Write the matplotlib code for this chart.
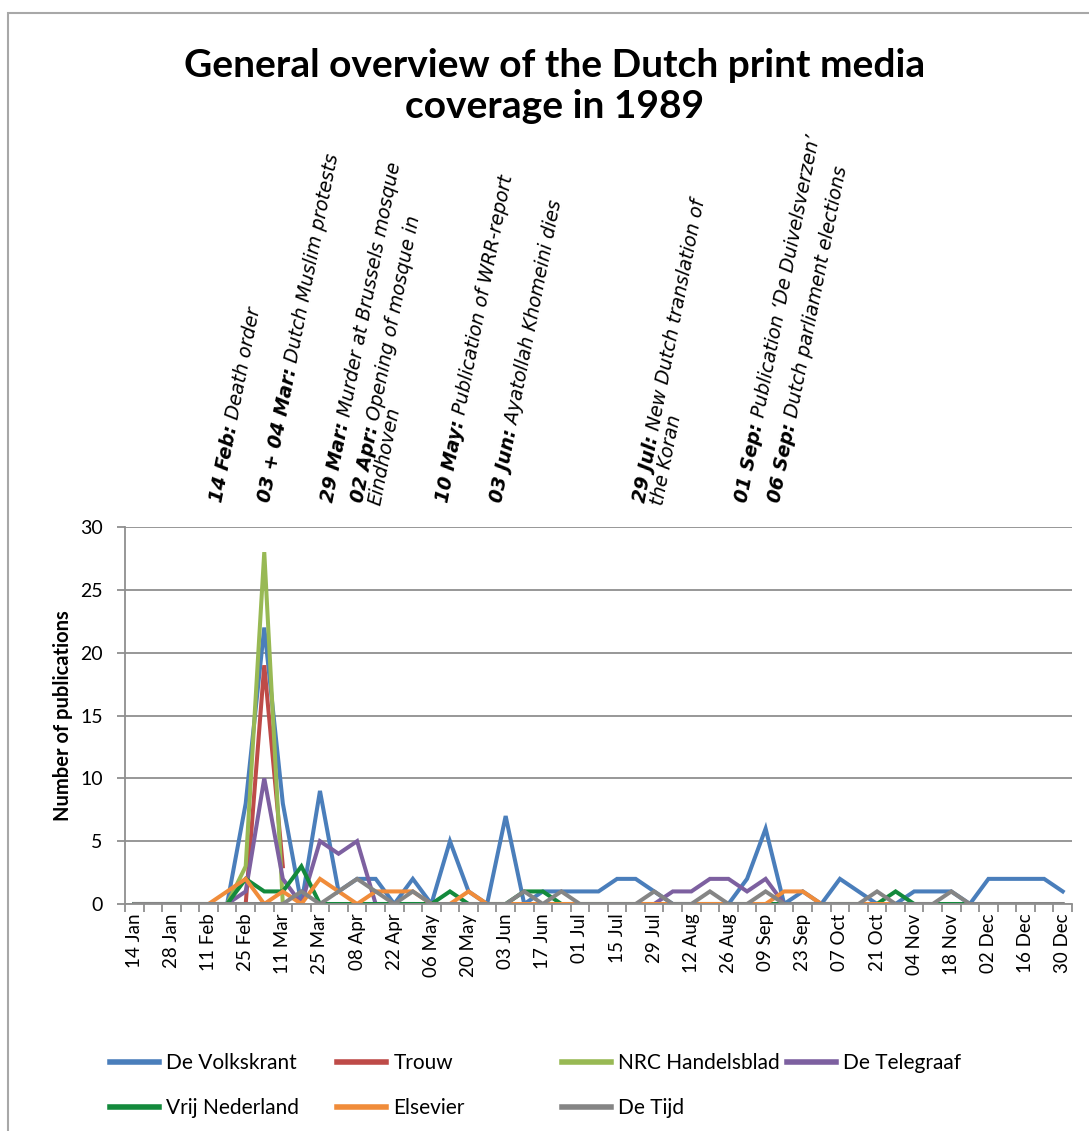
import numpy as np
import matplotlib
matplotlib.use("Agg")
import matplotlib.pyplot as plt
from matplotlib.transforms import blended_transform_factory, offset_copy
from matplotlib.patches import Rectangle
from matplotlib.lines import Line2D

nan = np.nan

# ---------------- data ----------------
weeks = ["14 Jan", "21 Jan", "28 Jan", "04 Feb", "11 Feb", "18 Feb", "25 Feb",
         "04 Mar", "11 Mar", "18 Mar", "25 Mar", "01 Apr", "08 Apr", "15 Apr",
         "22 Apr", "29 Apr", "06 May", "13 May", "20 May", "27 May", "03 Jun",
         "10 Jun", "17 Jun", "24 Jun", "01 Jul", "08 Jul", "15 Jul", "22 Jul",
         "29 Jul", "05 Aug", "12 Aug", "19 Aug", "26 Aug", "02 Sep", "09 Sep",
         "16 Sep", "23 Sep", "30 Sep", "07 Oct", "14 Oct", "21 Oct", "28 Oct",
         "04 Nov", "11 Nov", "18 Nov", "25 Nov", "02 Dec", "09 Dec", "16 Dec",
         "23 Dec", "30 Dec"]

volkskrant = [0, 0, 0, 0, 0, 0, 8, 22, 8, 0,
              9, 1, 2, 2, 0, 2, 0, 5, 1, 0,
              7, 0, 1, 1, 1, 1, 2, 2, 1, 0,
              0, 0, 0, 2, 6, 0, 1, 0, 2, 1,
              0, 0, 1, 1, 1, 0, 2, 2, 2, 2,
              1]
trouw = [nan, nan, nan, nan, nan, nan, 0, 19, 3, nan,
         nan, nan, nan, nan, nan, nan, nan, nan, nan, nan,
         nan, nan, nan, nan, nan, nan, nan, nan, nan, nan,
         nan, nan, nan, nan, nan, nan, nan, nan, nan, nan,
         nan, nan, nan, nan, nan, nan, nan, nan, nan, nan,
         nan]
nrc = [nan, nan, nan, nan, nan, 0, 3, 28, 0, nan,
       nan, nan, nan, nan, nan, nan, nan, nan, nan, nan,
       nan, nan, nan, nan, nan, nan, nan, nan, nan, nan,
       nan, nan, nan, nan, nan, nan, nan, nan, nan, nan,
       nan, nan, nan, nan, nan, nan, nan, nan, nan, nan,
       nan]
telegraaf = [nan, nan, nan, nan, nan, 0, 1, 10, 2, 0,
             5, 4, 5, 0, 0, 0, nan, nan, nan, nan,
             nan, nan, nan, nan, nan, nan, nan, nan, 0, 1,
             1, 2, 2, 1, 2, 0, nan, nan, nan, nan,
             nan, nan, nan, nan, nan, nan, nan, nan, nan, nan,
             nan]
vrij_nederland = [0, 0, 0, 0, 0, 0, 2, 1, 1, 3,
                  0, 0, 0, 0, 0, 0, 0, 1, 0, 0,
                  0, 1, 1, 0, 0, 0, 0, 0, 0, 0,
                  0, 0, 0, 0, 0, 0, 0, 0, 0, 0,
                  0, 1, 0, 0, 0, 0, nan, nan, nan, nan,
                  nan]
elsevier = [nan, nan, nan, nan, 0, 1, 2, 0, 1, 0,
            2, 1, 0, 1, 1, 1, 0, 0, 1, 0,
            0, 0, 0, 0, 0, 0, 0, 0, 0, 0,
            0, 0, 0, 0, 0, 1, 1, 0, 0, 0,
            0, 0, nan, nan, nan, nan, nan, nan, nan, nan,
            nan]
de_tijd = [0, 0, 0, 0, 0, 0, 0, 0, 0, 1,
           0, 1, 2, 1, 0, 1, 0, 0, 0, 0,
           0, 1, 0, 1, 0, 0, 0, 0, 1, 0,
           0, 1, 0, 0, 1, 0, 0, 0, 0, 0,
           1, 0, 0, 0, 1, 0, 0, 0, 0, 0,
           0]

series_names = ["De Volkskrant", "Trouw", "NRC Handelsblad", "De Telegraaf",
                "Vrij Nederland", "Elsevier", "De Tijd"]
series_values = [volkskrant, trouw, nrc, telegraaf, vrij_nederland, elsevier, de_tijd]
series_colors = ["#4A7EBB", "#BE4B48", "#98B954", "#7D60A0",
                 "#138A3C", "#F08C3A", "#858585"]

event_bold = ["14 Feb:", "03 + 04 Mar:", "29 Mar:", "02 Apr:", "10 May:",
              "03 Jun:", "29 Jul:", "01 Sep:", "06 Sep:"]
event_text = [" Death order", " Dutch Muslim protests", " Murder at Brussels mosque",
              " Opening of mosque in\nEindhoven", " Publication of WRR-report",
              " Ayatollah Khomeini dies", " New Dutch translation of\nthe Koran",
              " Publication \u2018De Duivelsverzen\u2019", " Dutch parliament elections"]
event_week = [4.7, 7.3, 10.7, 12.3, 16.9, 19.8, 27.5, 33.0, 34.8]

title = "General overview of the Dutch print media\ncoverage in 1989"
y_label = "Number of publications"
y_ticks = [0, 5, 10, 15, 20, 25, 30]

# ---------------- figure ----------------
W, H = 1089, 1131
fig = plt.figure(figsize=(W / 100, H / 100), dpi=100)
fig.patch.set_facecolor("white")

ax = fig.add_axes([125 / W, 1 - 904 / H, (1072 - 125) / W, (904 - 527) / H])
x = np.arange(len(weeks))
for vals, col, name in zip(series_values, series_colors, series_names):
    ax.plot(x, vals, color=col, lw=2.9, solid_joinstyle="miter", label=name)

ax.set_xlim(-0.5, len(weeks) - 0.5)
ax.set_ylim(0, 30)
ax.set_yticks(y_ticks)
ax.grid(axis="y", color="#8f8f8f", lw=1.3)
ax.set_axisbelow(True)
for s in ["top", "right"]:
    ax.spines[s].set_visible(False)
for s in ["left", "bottom"]:
    ax.spines[s].set_color("#8f8f8f")
    ax.spines[s].set_linewidth(1.3)

ax.set_xticks(x[::2])
ax.set_xticklabels(weeks[::2], rotation=90, fontsize=13.5, family="Lato")
ax.set_xticks(np.arange(-0.5, len(weeks), 1.0), minor=True)
ax.tick_params(axis="x", which="major", length=0, pad=7)
ax.tick_params(axis="x", which="minor", length=6, color="#8f8f8f", width=1.3)
ax.tick_params(axis="y", length=6, color="#8f8f8f", width=1.3, pad=10,
               labelsize=14)
for lab in ax.get_yticklabels():
    lab.set_family("Lato")
ax.set_ylabel(y_label, fontsize=14.5, fontweight="bold", family="Lato", labelpad=5)

# frame around the chart area
fig.add_artist(Rectangle((8 / W, -0.1), 1.5, 1.1 - 13 / H, transform=fig.transFigure,
                         fill=False, edgecolor="#a8a8a8", lw=1.5))

# title
fig.text(555 / W, 1 - 86 / H, title, ha="center", va="center", fontsize=28,
         fontweight="bold", family="Lato", linespacing=1.22)

# event annotations
renderer = fig.canvas.get_renderer()
ang = 78.8
ca, sa = np.cos(np.radians(ang)), np.sin(np.radians(ang))
fs = 13.6
kw_it = dict(family="DejaVu Sans", style="italic", fontsize=fs)
kw_bd = dict(family="DejaVu Sans", style="italic", fontweight="bold", fontsize=fs)
line_gap = 18.0


def width_of(s, kw):
    t = fig.text(0, 0, s, **kw)
    w = t.get_window_extent(renderer).width
    t.remove()
    return w


trans = blended_transform_factory(ax.transData, fig.transFigure)
y_base = 1 - 503 / H
for xb, bold, rest in zip(event_week, event_bold, event_text):
    lines = rest.split("\n")
    common = dict(rotation=ang, rotation_mode="anchor", ha="left", va="baseline")
    fig.text(xb, y_base, bold, transform=trans, **common, **kw_bd)
    w1 = width_of(bold, kw_bd)
    t2 = offset_copy(trans, fig=fig, x=w1 * ca, y=w1 * sa, units="dots")
    fig.text(xb, y_base, lines[0], transform=t2, **common, **kw_it)
    for k, ln in enumerate(lines[1:], start=1):
        t3 = offset_copy(trans, fig=fig, x=k * line_gap * sa, y=-k * line_gap * ca,
                         units="dots")
        fig.text(xb, y_base, ln, transform=t3, **common, **kw_it)

# legend: four columns, row-major like the original
handles = [Line2D([], [], color=c, lw=4) for c in series_colors]
col_groups = [[0, 4], [1, 5], [2, 6], [3]]
col_x = [110, 337, 562, 787]
for grp, cx in zip(col_groups, col_x):
    fig.legend([handles[i] for i in grp], [series_names[i] for i in grp],
               loc="upper left", bbox_to_anchor=(cx / W, 1 - 1053 / H),
               frameon=False, prop=dict(family="Lato", size=15),
               handlelength=2.35, handletextpad=0.35, labelspacing=1.2,
               borderaxespad=0, borderpad=0)

fig.savefig("out.png", dpi=100, facecolor="white")
